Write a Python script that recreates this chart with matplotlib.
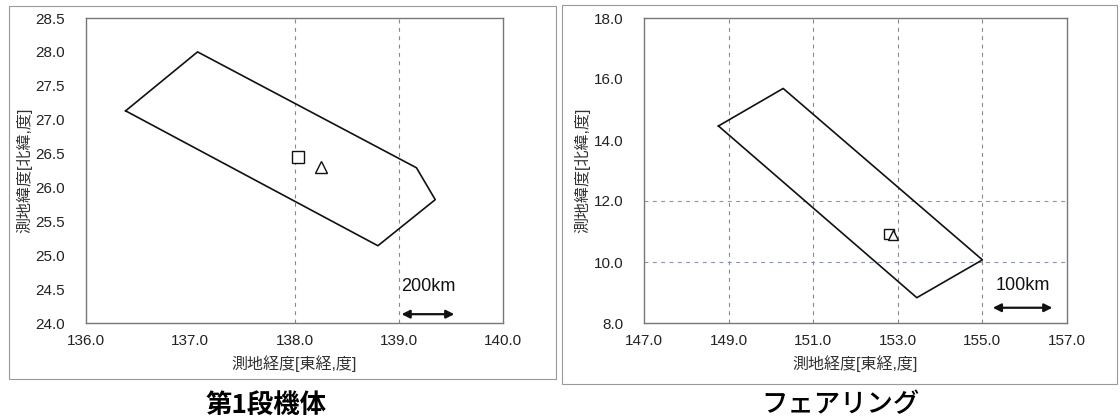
import matplotlib
matplotlib.use("Agg")
import matplotlib.pyplot as plt
from matplotlib.patches import Rectangle, FancyArrowPatch

plt.rcParams['font.family'] = ['Liberation Sans', 'Noto Sans CJK JP']

# ---- data: first stage ----
s1_lon = [136.38, 137.07, 139.17, 139.35, 138.80, 136.38]
s1_lat = [27.13, 28.0, 26.29, 25.82, 25.14, 27.13]
s1_square = (138.03, 26.45)
s1_triangle = (138.25, 26.30)
s1_xticks = [136.0, 137.0, 138.0, 139.0, 140.0]
s1_yticks = [24.0, 24.5, 25.0, 25.5, 26.0, 26.5, 27.0, 27.5, 28.0, 28.5]
s1_vgrid = [138.0, 139.0]
s1_scale = (139.0, 139.56, 24.13, "200km")

# ---- data: fairing ----
f_lon = [148.76, 150.29, 155.0, 153.45, 148.76]
f_lat = [14.46, 15.69, 10.07, 8.83, 14.46]
f_square = (152.80, 10.92)
f_triangle = (152.88, 10.90)
f_xticks = [147.0, 149.0, 151.0, 153.0, 155.0, 157.0]
f_yticks = [8.0, 10.0, 12.0, 14.0, 16.0, 18.0]
f_vgrid = [149.0, 151.0, 153.0, 155.0]
f_hgrid = [10.0, 12.0]
f_scale = (155.18, 156.72, 8.5, "100km")

xlabel = "測地経度[東経,度]"
ylabel = "測地緯度[北緯,度]"
titles = ["第1段機体", "フェアリング"]

fig = plt.figure(figsize=(11.2, 4.19), dpi=100)
W, H = 1120, 419

def fx(px):
    return px / W

def fy(py):
    return 1 - py / H

ax1 = fig.add_axes([fx(86), fy(323), fx(503) - fx(86), fy(18) - fy(323)])
ax2 = fig.add_axes([fx(644), fy(323), fx(1067) - fx(644), fy(18) - fy(323)])

grid_kw = dict(color='#888888', lw=0.8, ls=(0, (3.5, 4)), zorder=1)

def style(ax, xt, yt, xlim, ylim):
    ax.set_xlim(*xlim)
    ax.set_ylim(*ylim)
    ax.set_xticks(xt)
    ax.set_yticks(yt)
    ax.set_xticklabels([f"{v:.1f}" for v in xt], fontsize=11, color='#222222')
    ax.set_yticklabels([f"{v:.1f}" for v in yt], fontsize=11, color='#222222')
    ax.tick_params(axis='x', length=0, pad=8)
    ax.tick_params(axis='y', length=0, pad=15)
    for s in ax.spines.values():
        s.set_color('#777777')
        s.set_linewidth(1.0)
    ax.set_xlabel(xlabel, fontsize=11.5, color='#333333', labelpad=5)
    ax.set_ylabel(ylabel, fontsize=11.5, color='#333333', labelpad=2)

style(ax1, s1_xticks, s1_yticks, (136.0, 140.0), (24.0, 28.5))
style(ax2, f_xticks, f_yticks, (147.0, 157.0), (8.0, 18.0))

for g in s1_vgrid:
    ax1.axvline(g, **grid_kw)
for g in f_vgrid:
    ax2.axvline(g, **grid_kw)
for g in f_hgrid:
    ax2.axhline(g, color='#8894a8', lw=0.8, ls=(0, (3.5, 4)), zorder=1)

ax1.plot(s1_lon, s1_lat, color='#111111', lw=1.2, zorder=3)
ax1.plot(*s1_square, marker='s', ms=8, mfc='white', mec='#111111', mew=1.0, zorder=4)
ax1.plot(*s1_triangle, marker='^', ms=8, mfc='white', mec='#111111', mew=1.0, zorder=4)

ax2.plot(f_lon, f_lat, color='#111111', lw=1.2, zorder=3)
ax2.plot(*f_square, marker='s', ms=7, mfc='white', mec='#111111', mew=1.0, zorder=4)
ax2.plot(*f_triangle, marker='^', ms=7, mfc='white', mec='#111111', mew=1.0, zorder=4)

label_y = {id(ax1): 24.42, id(ax2): 8.95}
for ax, (x0, x1, y, txt) in ((ax1, s1_scale), (ax2, f_scale)):
    arr = FancyArrowPatch((x0, y), (x1, y), arrowstyle='<|-|>', mutation_scale=12,
                          color='#111111', lw=1.6, zorder=5)
    ax.add_patch(arr)
    ax.text((x0 + x1) / 2, label_y[id(ax)], txt, ha='center', va='bottom',
            fontsize=13, color='#111111')

# panel frames
fig.patches.append(Rectangle((fx(9), fy(379)), fx(556) - fx(9), fy(6) - fy(379),
                             transform=fig.transFigure, fill=False, ec='#999999', lw=0.8))
fig.patches.append(Rectangle((fx(562), fy(384)), fx(1117) - fx(562), fy(5) - fy(384),
                             transform=fig.transFigure, fill=False, ec='#999999', lw=0.8))

fig.text(fx(266), fy(405), titles[0], ha='center', va='center', fontsize=19,
         fontweight='bold', family=['Noto Sans CJK JP', 'Liberation Sans'])
fig.text(fx(840), fy(405), titles[1], ha='center', va='center', fontsize=19,
         fontweight='medium', family=['Noto Sans CJK JP', 'Liberation Sans'])

fig.savefig("out.png", dpi=100)
